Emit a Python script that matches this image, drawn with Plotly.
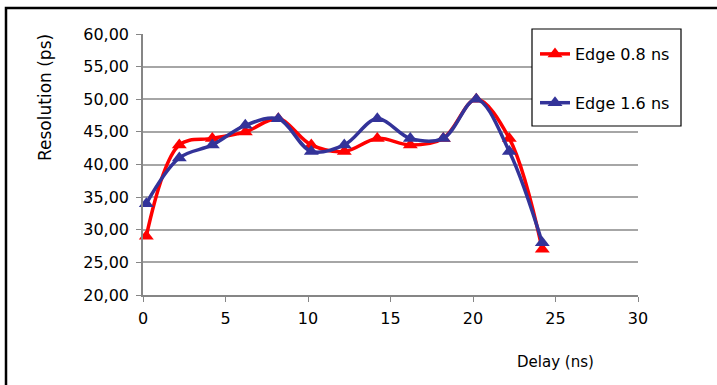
import plotly.graph_objects as go

delay = [0.2, 2.2, 4.2, 6.2, 8.2, 10.2, 12.2, 14.2, 16.2, 18.2, 20.2, 22.2, 24.2]
edge_08 = [29, 43, 44, 45, 47, 43, 42, 44, 43, 44, 50, 44, 27]
edge_16 = [34, 41, 43, 46, 47, 42, 43, 47, 44, 44, 50, 42, 28]
series_names = ["Edge 0.8 ns", "Edge 1.6 ns"]

FONT = "DejaVu Sans"

fig = go.Figure()
fig.add_trace(go.Scatter(
    x=delay, y=edge_08, name=series_names[0], mode="lines+markers",
    line=dict(color="#FF0000", width=3.5, shape="spline", smoothing=1),
    marker=dict(symbol="triangle-up", size=13, color="#FF0000"),
    cliponaxis=False, legendgroup="a"))
fig.add_trace(go.Scatter(
    x=delay, y=edge_16, name=series_names[1], mode="lines+markers",
    line=dict(color="#333399", width=3.5, shape="spline", smoothing=1),
    marker=dict(symbol="triangle-up", size=13, color="#333399"),
    cliponaxis=False, legendgroup="b"))

L, R, T, B = 143, 79, 34, 90
W, H = 717, 385
pw, ph = W - L - R, H - T - B

def px(x):
    return (x - L) / pw

def py(y):
    return 1 - (y - T) / ph

fig.update_layout(
    width=W, height=H,
    margin=dict(l=L, r=R, t=T, b=B, autoexpand=False),
    paper_bgcolor="white", plot_bgcolor="white",
    font=dict(family=FONT, size=16, color="black"),
    separators=",.",
    showlegend=True,
    legend=dict(
        x=px(535), y=py(37), xanchor="left", yanchor="top",
        bgcolor="rgba(0,0,0,0)", borderwidth=0,
        traceorder="grouped", tracegroupgap=25,
        font=dict(family=FONT, size=16, color="black"),
        itemwidth=30,
    ),
    xaxis=dict(
        range=[0, 30], dtick=5, tick0=0, showgrid=False, zeroline=False,
        showline=True, linecolor="#868686", linewidth=1.5,
        ticks="outside", ticklen=5, tickcolor="#868686",
        tickfont=dict(family=FONT, size=16), ticklabelstandoff=3,
    ),
    yaxis=dict(
        range=[20, 60], dtick=5, tick0=20, tickformat=".2f",
        showgrid=True, gridcolor="#A6A6A6", gridwidth=1.5, zeroline=False,
        showline=True, linecolor="#868686", linewidth=1.5,
        ticks="outside", ticklen=5, tickcolor="#868686",
        tickfont=dict(family=FONT, size=16), ticklabelstandoff=4,
    ),
    annotations=[
        dict(text="Resolution (ps)", xref="paper", yref="paper",
             x=px(45), y=py(98), xanchor="center", yanchor="middle",
             textangle=-90, showarrow=False,
             font=dict(family=FONT, size=17, color="black")),
        dict(text="Delay (ns)", xref="paper", yref="paper",
             x=px(555), y=py(362), xanchor="center", yanchor="middle",
             showarrow=False,
             font=dict(family=FONT, size=15, color="black")),
    ],
    shapes=[
        dict(type="rect", xref="paper", yref="paper",
             x0=px(532), x1=px(681), y0=py(126), y1=py(29),
             line=dict(color="black", width=1.2), fillcolor="white",
             layer="above"),
        dict(type="rect", xref="paper", yref="paper",
             x0=px(6), x1=px(760), y0=py(420), y1=py(8),
             line=dict(color="black", width=2.5), fillcolor="rgba(0,0,0,0)",
             layer="above"),
    ],
)

fig.write_html("out.html", config={"displayModeBar": False},
               post_script="document.body.style.margin='0px';document.body.style.overflow='hidden';")
